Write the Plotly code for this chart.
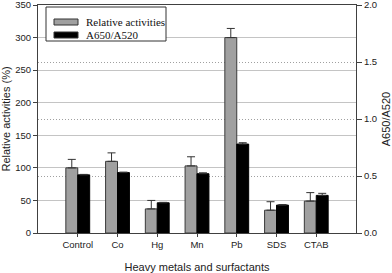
import plotly.graph_objects as go

categories = ["Control", "Co", "Hg", "Mn", "Pb", "SDS", "CTAB"]
relative_activities = [100, 110, 37, 103, 300, 35, 49]
relative_err = [13, 13, 13, 14, 14, 13, 13]
ratio_a650_a520 = [0.51, 0.53, 0.265, 0.52, 0.78, 0.245, 0.33]
ratio_err = [0.004, 0.004, 0.004, 0.008, 0.012, 0.004, 0.018]
series_names = ["Relative activities", "A650/A520"]
series_colors = ["#a0a0a0", "#000000"]

left_ticks = [0, 50, 100, 150, 200, 250, 300, 350]
right_ticks = [0.0, 0.5, 1.0, 1.5, 2.0]

W, H = 392, 273
ML, MR, MT, MB = 38, 36, 5, 40
PW, PH = W - ML - MR, H - MT - MB

def px(x):
    return (x - ML) / PW

def py(y):
    return (H - MB - y) / PH

AX = "#404040"
TICKFONT = dict(family="Liberation Sans, Arial, sans-serif", size=9.5, color="#222")
TITLEFONT = dict(family="Liberation Sans, Arial, sans-serif", size=11, color="#222")

fig = go.Figure()
fig.add_trace(go.Bar(
    x=categories, y=relative_activities, name=series_names[0],
    marker=dict(color=series_colors[0], line=dict(color="#3a3a3a", width=1)),
    width=0.3, offset=-0.3, yaxis="y",
    error_y=dict(type="data", array=relative_err, arrayminus=[0]*len(relative_err),
                 color="#333", thickness=1, width=4),
))
fig.add_trace(go.Bar(
    x=categories, y=ratio_a650_a520, name=series_names[1],
    marker=dict(color=series_colors[1], line=dict(color="#000000", width=1)),
    width=0.3, offset=0.0, yaxis="y2",
    error_y=dict(type="data", array=ratio_err, arrayminus=[0]*len(ratio_err),
                 color="#333", thickness=1, width=4),
))

# manual legend (box, swatches, labels)
shapes = [dict(type="rect", xref="paper", yref="paper", layer="above",
               x0=px(46), x1=px(166), y0=py(41), y1=py(7),
               line=dict(color="#333", width=1), fillcolor="white")]
annotations = []
rows = [(19, 25, 22), (32, 38, 35)]
for (t, b, c), name, col in zip(rows, series_names, series_colors):
    shapes.append(dict(type="rect", xref="paper", yref="paper", layer="above",
                       x0=px(54), x1=px(78), y0=py(b), y1=py(t),
                       line=dict(color="#333", width=1), fillcolor=col))
    annotations.append(dict(xref="paper", yref="paper", x=px(84), y=py(c),
                            xanchor="left", yanchor="middle", showarrow=False,
                            text=name,
                            font=dict(family="Liberation Serif, Times New Roman, serif",
                                      size=11, color="#111")))

fig.update_layout(
    width=W, height=H,
    margin=dict(l=ML, r=MR, t=MT, b=MB, autoexpand=False),
    paper_bgcolor="white", plot_bgcolor="white",
    barmode="group",
    showlegend=False,
    shapes=shapes, annotations=annotations,
    xaxis=dict(type="category", range=[-1, 7], showgrid=False, automargin=False,
               showline=True, linecolor=AX, linewidth=1, mirror=True,
               ticks="outside", ticklen=3, tickcolor=AX,
               tickfont=TICKFONT,
               title=dict(text="Heavy metals and surfactants", font=TITLEFONT)),
    yaxis=dict(range=[0, 350], tickvals=left_ticks, showgrid=True, automargin=False,
               gridcolor="#c4c4c4", gridwidth=1.3, ticklabeloverflow="allow",
               showline=True, linecolor=AX, linewidth=1,
               ticks="outside", ticklen=4, tickcolor=AX,
               tickfont=TICKFONT, zeroline=False,
               title=dict(text="Relative activities (%)", font=TITLEFONT)),
    yaxis2=dict(range=[0, 2], tickvals=right_ticks, tickformat=".1f", automargin=False,
                overlaying="y", side="right", showgrid=True, ticklabeloverflow="allow",
                gridcolor="#a0a0a0", gridwidth=1, griddash="1px,2px",
                showline=True, linecolor=AX, linewidth=1,
                ticks="outside", ticklen=5, tickcolor=AX,
                tickfont=TICKFONT, zeroline=False,
                title=dict(text="A650/A520", font=TITLEFONT)),
)

fig.write_html("out.html", config={"displayModeBar": False},
               post_script="document.body.style.margin='0';document.body.style.overflow='hidden';")
